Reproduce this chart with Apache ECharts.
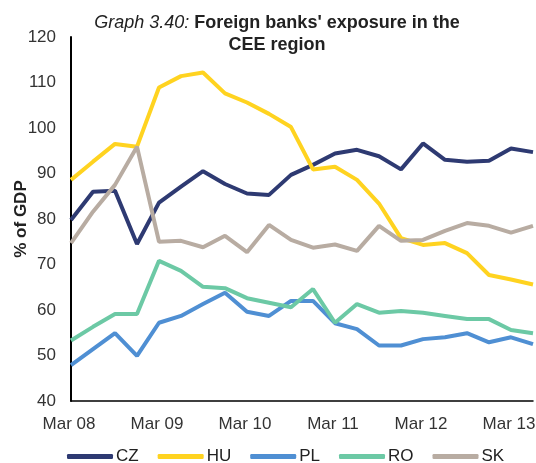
<!DOCTYPE html>
<html>
<head>
<meta charset="utf-8">
<script src="https://cdn.jsdelivr.net/npm/echarts@6/dist/echarts.min.js"></script>
<style>
  html, body { margin: 0; padding: 0; background: #fff; }
  #chart { width: 536px; height: 463px; }
</style>
</head>
<body>
<div id="chart"></div>
<script>
// quarterly, Mar 08 .. Jun 13
var quarters = ['Mar 08', 'Jun 08', 'Sep 08', 'Dec 08',
    'Mar 09', 'Jun 09', 'Sep 09', 'Dec 09',
    'Mar 10', 'Jun 10', 'Sep 10', 'Dec 10',
    'Mar 11', 'Jun 11', 'Sep 11', 'Dec 11',
    'Mar 12', 'Jun 12', 'Sep 12', 'Dec 12',
    'Mar 13', 'Jun 13'];

var cz = [79.8, 86.0, 86.2, 74.5, 83.6, 87.1, 90.5, 87.7, 85.6, 85.3, 89.7,
    91.9, 94.4, 95.2, 93.8, 90.9, 96.6, 93.0, 92.6, 92.8, 95.5, 94.7];
var hu = [88.6, 92.6, 96.5, 95.9, 108.9, 111.4, 112.2, 107.6, 105.6, 103.1, 100.2,
    90.9, 91.5, 88.6, 83.4, 75.8, 74.3, 74.7, 72.5, 67.7, 66.7, 65.6];
var pl = [47.9, 51.4, 54.9, 49.9, 57.2, 58.7, 61.3, 63.8, 59.6, 58.7, 62.0,
    62.0, 57.1, 55.8, 52.2, 52.2, 53.6, 54.0, 54.9, 52.9, 54.0, 52.5];
var ro = [53.3, 56.3, 59.1, 59.1, 70.8, 68.6, 65.1, 64.8, 62.6, 61.6, 60.6,
    64.6, 57.2, 61.3, 59.4, 59.8, 59.4, 58.7, 58.0, 58.0, 55.6, 54.9];
var sk = [74.7, 81.6, 87.5, 95.9, 75.0, 75.2, 73.8, 76.3, 72.7, 78.7, 75.4,
    73.7, 74.4, 73.0, 78.5, 75.2, 75.4, 77.4, 79.1, 78.5, 77.0, 78.5];

var myChart = echarts.init(document.getElementById('chart'));

function line(name, color, data) {
    return {
        name: name,
        type: 'line',
        data: data,
        symbol: 'none',
        lineStyle: { color: color, width: 4 },
        itemStyle: { color: color }
    };
}

var option = {
    animation: false,
    textStyle: { fontFamily: 'Liberation Sans, Arial, sans-serif' },
    title: {
        left: 277,
        top: 12,
        padding: 0,
        textAlign: 'center',
        text: '{i|Graph 3.40:} {b|Foreign banks\' exposure in the}\n{b|CEE region}',
        textStyle: {
            rich: {
                i: { fontStyle: 'italic', fontWeight: 'normal', fontSize: 18, color: '#222', lineHeight: 22 },
                b: { fontWeight: 'bold', fontSize: 18, color: '#222', lineHeight: 22 }
            }
        }
    },
    legend: {
        bottom: -2,
        left: 67,
        padding: 0,
        itemWidth: 46,
        itemHeight: 5,
        itemGap: 19,
        icon: 'roundRect',
        textStyle: { fontSize: 17, color: '#222', padding: [0, 0, 0, -2] },
        data: ['CZ', 'HU', 'PL', 'RO', 'SK']
    },
    grid: { left: 71, right: 3, top: 37, bottom: 62, outerBoundsMode: 'none' },
    xAxis: {
        type: 'category',
        data: quarters,
        boundaryGap: false,
        axisLine: { lineStyle: { color: '#000', width: 1.5 } },
        axisTick: { show: false },
        axisLabel: {
            interval: 3,
            fontSize: 17,
            color: '#333',
            margin: 15,
            padding: [0, 4, 0, 0]
        }
    },
    yAxis: {
        type: 'value',
        min: 40,
        max: 120,
        interval: 10,
        name: '% of GDP',
        nameLocation: 'middle',
        nameGap: 41,
        nameMoveOverlap: false,
        nameTextStyle: { fontSize: 17, fontWeight: 'bold', color: '#222' },
        axisLine: { show: true, lineStyle: { color: '#000', width: 2 } },
        axisTick: { show: false },
        splitLine: { show: false },
        axisLabel: { fontSize: 17, color: '#333', margin: 15 }
    },
    series: [
        line('CZ', '#2e3a72', cz),
        line('HU', '#ffd320', hu),
        line('PL', '#4f8fd3', pl),
        line('RO', '#6cc9a5', ro),
        line('SK', '#b8aca2', sk)
    ]
};
myChart.setOption(option);
</script>
</body>
</html>
